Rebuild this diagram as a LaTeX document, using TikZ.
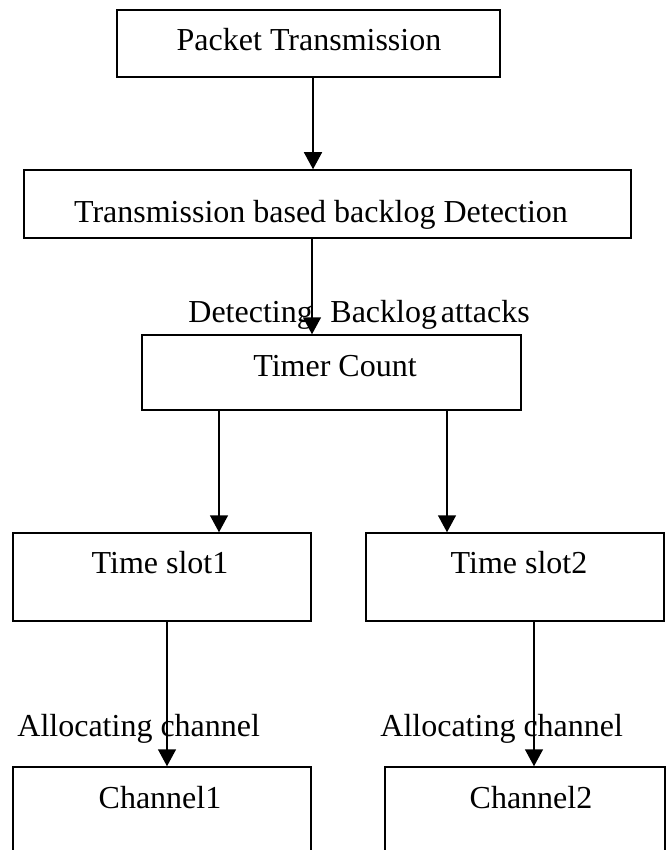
\documentclass[tikz,border=0pt]{standalone}
\usepackage{fontspec}
\setmainfont{Liberation Serif}
\usetikzlibrary{arrows.meta}

\begin{document}
\begin{tikzpicture}[x=0.5pt,y=-0.5pt,
  box/.style={draw, line width=0.75pt, rectangle, inner sep=0pt},
  lbl/.style={inner sep=0pt, font=\fontsize{16}{19}\selectfont, anchor=base},
  tag/.style={inner sep=0pt, font=\fontsize{16}{19}\selectfont, anchor=base west},
  arr/.style={line width=0.75pt, -{Triangle[length=8.5pt,width=9pt]}}]

\useasboundingbox (0,0) rectangle (666,850);
\clip (0,0) rectangle (666,850);

% box given by its left/top/right/bottom edges
\newcommand{\flowbox}[5]{%
  \node[box, minimum width={(#4-#2)*0.5pt}, minimum height={(#5-#3)*0.5pt}]
    (#1) at ({(#2+#4)/2},{(#3+#5)/2}) {};}

\flowbox{pkt}{117}{10}{500}{77}
\flowbox{det}{24}{170}{631}{238}
\flowbox{tmr}{142}{335}{521}{410}
\flowbox{slotA}{13}{533}{311}{621}
\flowbox{slotB}{366}{533}{664}{621}
\flowbox{chA}{13}{767}{311}{890}
\flowbox{chB}{385}{767}{665}{890}

% box texts
\node[lbl] (pktT)   at (309,51)  {Packet Transmission};
\node[lbl] (detT)   at (321,222) {Transmission based backlog Detection};
\node[lbl] (tmrT)   at (335,376) {Timer Count};
\node[lbl] (slotAT) at (160,573) {Time slot1};
\node[lbl] (slotBT) at (519,573) {Time slot2};
\node[lbl] (chAT)   at (160,808) {Channel1};
\node[lbl] (chBT)   at (531,808) {Channel2};

% edge texts
\node[tag] (detL) at (188,322) {Detecting\hspace{0.55em}Backlog\hspace{0.12em}attacks};
\node[tag] (alcA) at (17,736)  {Allocating channel};
\node[tag] (alcB) at (380,736) {Allocating channel};

% connectors
\draw[arr] (pkt.south -| 313,0) -- (det.north -| 313,0);
\draw[arr] (det.south -| 312,0) -- (tmr.north -| 312,0);
\draw[arr] (tmr.south -| 219,0) -- (slotA.north -| 219,0);
\draw[arr] (tmr.south -| 447,0) -- (slotB.north -| 447,0);
\draw[arr] (slotA.south -| 167,0) -- (chA.north -| 167,0);
\draw[arr] (slotB.south -| 534,0) -- (chB.north -| 534,0);
\end{tikzpicture}
\end{document}
